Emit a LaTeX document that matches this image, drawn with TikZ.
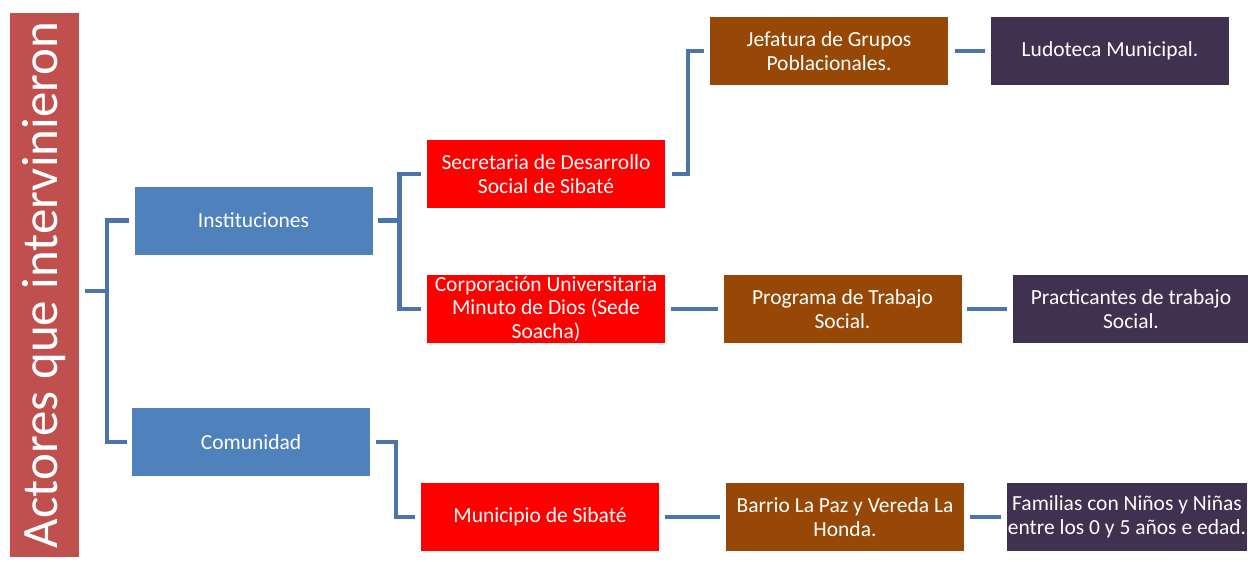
\documentclass[tikz,border=0pt]{standalone}
\usepackage{fontspec}
\setmainfont{Carlito}
\usepackage{tikz}
\usetikzlibrary{positioning}

\definecolor{titlered}{HTML}{C0504D}
\definecolor{levelblue}{HTML}{4F81BD}
\definecolor{levelred}{HTML}{FF0000}
\definecolor{levelbrown}{HTML}{974806}
\definecolor{levelpurple}{HTML}{403151}
\definecolor{linkblue}{HTML}{4A74AA}

\begin{document}
\begin{tikzpicture}[x=1pt,y=-1pt,
	box/.style={rectangle, minimum width=238pt, minimum height=68pt, inner sep=1pt,
		align=center, text=white, font=\fontsize{21.5}{23.5}\selectfont},
	blue box/.style={box, fill=levelblue},
	red box/.style={box, fill=levelred},
	brown box/.style={box, fill=levelbrown},
	purple box/.style={box, fill=levelpurple},
	link/.style={draw=linkblue, line width=4.5pt}]

	\useasboundingbox (0,0) rectangle (1248,562);

	% titulo
	\node[fill=titlered, text=white, rotate=90, minimum width=544pt, minimum height=69pt,
		inner sep=0pt, font=\fontsize{51}{54}\selectfont] (title) at (44.5,285) {Actores que intervinieron};

	% primer nivel
	\node[blue box] (inst) at (253.5,220.5) {Instituciones};
	\node[blue box] (com) at (251,442) {Comunidad};

	% segundo nivel
	\node[red box] (sec) at (546,174) {Secretaria de Desarrollo\\Social de Sibaté};
	\node[red box] (corp) at (546,309) {Corporación Universitaria\\Minuto de Dios (Sede\\Soacha)};
	\node[red box] (mun) at (540,517) {Municipio de Sibaté};

	% tercer nivel
	\node[brown box] (jef) at (829,51) {Jefatura de Grupos\\Poblacionales.};
	\node[brown box] (prog) at (842.5,309) {Programa de Trabajo\\Social.};
	\node[brown box] (bar) at (845,517) {Barrio La Paz y Vereda La\\Honda.};

	% cuarto nivel
	\node[purple box] (lud) at (1110,51) {Ludoteca Municipal.};
	\node[purple box, minimum width=236pt] (prac) at (1131,309) {Practicantes de trabajo\\Social.};
	\node[purple box] (fam) at (1127,517) {Familias con Niños y Niñas\\entre los 0 y 5 años e edad.};

	% conectores
	\coordinate (hub) at (107,291);
	\draw[link] ([xshift=6pt,yshift=-6pt]title.south) -- (hub);
	\draw[link] ([xshift=-5pt]inst.west) -| (hub) |- ([xshift=-5pt]com.west);

	\draw[link] ([xshift=5pt]inst.east) -- ++(22,0) coordinate (b1);
	\draw[link] ([xshift=-6pt]sec.west) -| (b1) |- ([xshift=-6pt]corp.west);
	\draw[link] ([xshift=6pt]com.east) -- ++(20,0) |- ([xshift=-6pt]mun.west);

	\draw[link] ([xshift=7pt]sec.east) -- ++(16,0) |- ([xshift=-6pt]jef.west);
	\draw[link] ([xshift=6pt]corp.east) -- ([xshift=-5pt]prog.west);
	\draw[link] ([xshift=6pt]mun.east) -- ([xshift=-6pt]bar.west);

	\draw[link] ([xshift=7pt]jef.east) -- ([xshift=-6pt]lud.west);
	\draw[link] ([xshift=5pt]prog.east) -- ([xshift=-6pt]prac.west);
	\draw[link] ([xshift=6pt]bar.east) -- ([xshift=-6pt]fam.west);
\end{tikzpicture}
\end{document}
